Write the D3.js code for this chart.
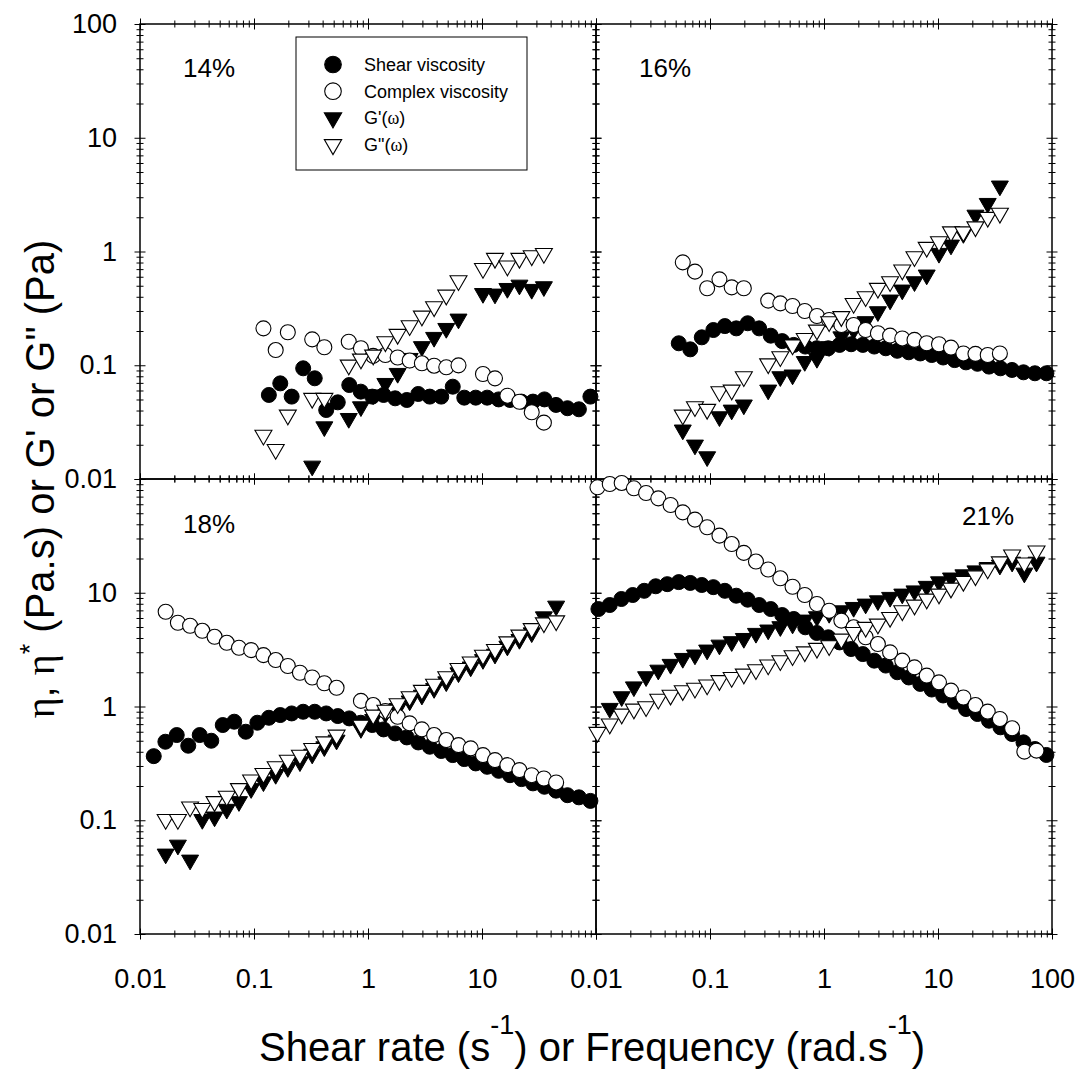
<!DOCTYPE html>
<html>
<head>
<meta charset="utf-8">
<script src="https://cdn.jsdelivr.net/npm/d3@7"></script>
<style>
  body { margin: 0; background: #fff; }
  text { font-family: "Liberation Sans", Arial, sans-serif; }
</style>
</head>
<body>
<svg id="chart" width="1087" height="1073"></svg>
<script>
// oscillatory frequency grid (rad/s) shared by all frequency sweeps
var freq = [0.0103, 0.0132, 0.0168, 0.0215, 0.0275, 0.0352, 0.0451, 0.0577, 0.0738, 0.0944,
            0.121, 0.155, 0.198, 0.253, 0.324, 0.414, 0.530, 0.678, 0.867, 1.11,
            1.42, 1.82, 2.32, 2.97, 3.80, 4.86, 6.22, 7.96, 10.2, 13.0,
            16.7, 21.3, 27.3, 34.9, 44.7, 57.2, 73.1];
// steady shear rate grid (1/s)
var rate = [0.0105, 0.0132, 0.0167, 0.0210, 0.0265, 0.0334, 0.0422, 0.0532, 0.0671, 0.0847,
            0.107, 0.135, 0.170, 0.214, 0.270, 0.341, 0.430, 0.543, 0.685, 0.864,
            1.09, 1.37, 1.73, 2.19, 2.76, 3.48, 4.39, 5.54, 6.99, 8.81,
            11.1, 14.0, 17.6, 22.2, 28.0, 35.3, 44.6, 56.2, 70.8, 89.3];

var panelLabels = ["14%", "16%", "18%", "21%"];

// 14 %
var eta14 = [null, null, null, null, null, null, null, null, null, null, null,
             0.0548, 0.0693, 0.0530, 0.0940, 0.0768, 0.0404, 0.0472, 0.0670, 0.0586, 0.0530,
             0.0548, 0.0512, 0.0495, 0.0559, 0.0530, 0.0530, 0.0648, 0.0519, 0.0519, 0.0519,
             0.0501, 0.0495, 0.0479, 0.0479, 0.0501, 0.0448, 0.0419, 0.0410, 0.0530];
var etaStar14 = [null, null, null, null, null, null, null, null, null, null,
                 0.211, 0.136, 0.195, null, 0.169, 0.144, null, 0.161, 0.141, 0.121,
                 0.123, 0.117, 0.110, 0.104, 0.0991, 0.0959, 0.0998, null, 0.0838, 0.0767,
                 0.0540, 0.0478, 0.0386, 0.0313, null, null, null];
var gp14 = [null, null, null, null, null, null, null, null, null, null,
            null, null, null, null, 0.0130, 0.0288, null, 0.0341, 0.0432, 0.055,
            0.0693, 0.0849, 0.115, 0.146, 0.176, 0.211, 0.255, null, 0.428, 0.423,
            0.474, 0.507, 0.465, 0.491, null, null, null];
var gpp14 = [null, null, null, null, null, null, null, null, null, null,
             0.0243, 0.0182, 0.0365, null, 0.0512, 0.0512, null, 0.1005, 0.1135, 0.123,
             0.161, 0.187, 0.223, 0.271, 0.327, 0.414, 0.554, null, 0.711, 0.871,
             0.746, 0.871, 0.918, 0.963, null, null, null];

// 16 %
var eta16 = [null, null, null, null, null, null, null,
             0.156, 0.138, 0.176, 0.204, 0.221, 0.211, 0.234, 0.211, 0.182, 0.163,
             0.151, 0.146, 0.141, 0.141, 0.151, 0.153, 0.151, 0.146, 0.141, 0.134,
             0.130, 0.127, 0.123, 0.117, 0.111, 0.106, 0.103, 0.0973, 0.0940, 0.0909,
             0.0867, 0.0850, 0.0850];
var etaStar16 = [null, null, null, null, null, null, null, 0.803, 0.665, 0.475,
                 0.569, 0.484, 0.475, null, 0.370, 0.350, 0.332, 0.300, 0.271, 0.250,
                 0.226, 0.226, 0.204, 0.191, 0.182, 0.172, 0.167, 0.156, 0.153, 0.143,
                 0.127, 0.126, 0.123, 0.127, null, null, null];
var gp16 = [null, null, null, null, null, null, null, 0.0270, 0.0199, 0.0157,
            0.0353, 0.0404, 0.0448, null, 0.0606, 0.0794, 0.0822, 0.108, 0.115, 0.146,
            0.178, 0.204, 0.242, 0.296, 0.375, 0.459, 0.543, 0.622, 0.964, 1.14,
            1.44, 2.09, 2.65, 3.77, null, null, null];
var gpp16 = [null, null, null, null, null, null, null, 0.0365, 0.0433, 0.0410,
             0.0586, 0.0606, 0.0794, null, 0.103, 0.119, 0.151, 0.172, 0.204, 0.242,
             0.268, 0.350, 0.401, 0.475, 0.543, 0.688, 0.901, 1.09, 1.22, 1.49,
             1.49, 1.65, 2.00, 2.17, null, null, null];

// 18 %
var eta18 = [null,
             0.366, 0.490, 0.561, 0.452, 0.561, 0.500, 0.687, 0.735, 0.600, 0.720,
             0.796, 0.841, 0.869, 0.899, 0.899, 0.869, 0.824, 0.786, 0.720, 0.687,
             0.629, 0.580, 0.535, 0.483, 0.443, 0.406, 0.374, 0.345, 0.316, 0.295,
             0.272, 0.249, 0.230, 0.211, 0.197, 0.182, 0.166, 0.159, 0.148];
var etaStar18 = [null, null, 6.81, 5.45, 5.13, 4.63, 4.10, 3.63, 3.28, 3.13,
                 2.83, 2.56, 2.27, 1.98, 1.80, 1.60, 1.46, null, 1.12, 1.03,
                 0.912, 0.813, 0.710, 0.629, 0.561, 0.507, 0.458, 0.428, 0.374, 0.338,
                 0.305, 0.276, 0.249, 0.233, 0.215, null, null];
var gp18 = [null, null, 0.0505, 0.0605, 0.0447, 0.1017, 0.107, 0.125, 0.146, 0.190,
            0.218, 0.253, 0.291, 0.327, 0.382, 0.443, 0.507, null, 0.641, 0.770,
            0.869, 0.962, 1.12, 1.26, 1.44, 1.65, 1.98, 2.23, 2.59, 2.89,
            3.40, 3.89, 4.45, 6.15, 7.64, null, null];
var gpp18 = [null, null, 0.1017, 0.1017, 0.131, 0.127, 0.146, 0.163, 0.190, 0.226,
             0.258, 0.296, 0.338, 0.374, 0.428, 0.490, 0.561, null, 0.687, 0.841,
             0.930, 1.06, 1.22, 1.39, 1.57, 1.83, 2.16, 2.47, 2.83, 3.18,
             3.71, 4.25, 4.85, 5.45, 5.67, null, null];

// 21 %
var eta21 = [7.19, 7.80, 8.81, 9.55, 10.4, 11.4, 11.9, 12.4, 12.2, 11.7,
             11.2, 10.4, 9.42, 8.69, 7.80, 7.19, 6.37, 5.88, 4.97, 4.43,
             4.06, 3.66, 3.20, 2.89, 2.53, 2.29, 2.00, 1.80, 1.58, 1.41,
             1.25, 1.10, 0.950, 0.859, 0.750, 0.656, 0.573, 0.484, 0.423, 0.375];
var etaStar21 = [84.5, 90.4, 92.3, 82.8, 75.3, 67.6, 59.1, 50.9, 43.9, 37.6,
                 31.8, 26.8, 22.4, 18.8, 16.0, 13.4, 11.3, 9.55, 7.96, 6.95,
                 5.69, 4.97, 4.06, 3.54, 2.99, 2.53, 2.21, 1.87, 1.63, 1.38,
                 1.20, 1.03, 0.901, 0.776, 0.643, 0.401, 0.409];
var gp21 = [null, 0.964, 1.22, 1.49, 1.83, 2.09, 2.35, 2.65, 2.84, 3.14,
            3.47, 3.72, 3.97, 4.40, 4.71, 5.04, 5.31, 5.76, 6.16, 6.59,
            6.95, 7.44, 7.96, 8.51, 9.12, 9.75, 10.4, 11.4, 12.5, 13.5,
            14.4, 15.6, 16.7, 17.5, 18.6, 14.9, 18.6];
var gpp21 = [0.593, 0.702, 0.859, 0.950, 0.997, 1.16, 1.26, 1.38, 1.45, 1.55,
             1.69, 1.80, 1.93, 2.11, 2.32, 2.53, 2.80, 3.03, 3.25, 3.43,
             3.92, 4.48, 4.97, 5.31, 6.08, 6.95, 7.80, 8.81, 9.75, 11.0,
             12.6, 14.1, 16.2, 18.7, 21.5, 18.3, 23.3];

var legendNames = ["Shear viscosity", "Complex viscosity", "G'(\u03c9)", "G\"(\u03c9)"];

// ---------------------------------------------------------------
var svg = d3.select("#chart");
var plot = {left: 140, right: 1052, top: 24, bottom: 934};
var pw = (plot.right - plot.left) / 2, ph = (plot.bottom - plot.top) / 2;

var panels = [
    {label: panelLabels[0], col: 0, row: 0, eta: eta14, etaStar: etaStar14, gp: gp14, gpp: gpp14, lx: 43, ly: 53},
    {label: panelLabels[1], col: 1, row: 0, eta: eta16, etaStar: etaStar16, gp: gp16, gpp: gpp16, lx: 43, ly: 53},
    {label: panelLabels[2], col: 0, row: 1, eta: eta18, etaStar: etaStar18, gp: gp18, gpp: gpp18, lx: 43, ly: 54},
    {label: panelLabels[3], col: 1, row: 1, eta: eta21, etaStar: etaStar21, gp: gp21, gpp: gpp21, lx: 366, ly: 46}
];

var majors = [0.01, 0.1, 1, 10, 100];
var tickVals = [];
majors.slice(0, 4).forEach(function (m) {
    for (var k = 1; k < 10; k++) tickVals.push(m * k);
});
tickVals.push(100);

function isMajor(d) {
    var l = Math.log10(d);
    return Math.abs(l - Math.round(l)) < 1e-6;
}
var fmt = d3.format("~g");

var triangle = d3.symbol().type(d3.symbolTriangle).size(125)();
var triangleLegend = d3.symbol().type(d3.symbolTriangle).size(130)();

function drawAxis(g, scale, orient, tx, ty, labelFn) {
    var fn = {bottom: d3.axisBottom, top: d3.axisTop, left: d3.axisLeft, right: d3.axisRight}[orient];
    var ax = fn(scale).tickValues(tickVals).tickSizeOuter(0).tickSizeInner(5)
        .tickPadding(orient === "left" ? 18 : 30)
        .tickFormat(function (d) { return labelFn && labelFn(d) ? fmt(d) : ""; });
    var a = g.append("g")
        .attr("transform", "translate(" + tx + "," + ty + ")")
        .call(ax);
    a.attr("font-size", 27).attr("font-family", "Liberation Sans, Arial, sans-serif");
    a.select(".domain").remove();
    var horiz = orient === "bottom" || orient === "top";
    a.selectAll(".tick line")
        .attr("stroke", "#000")
        .attr("stroke-width", 1)
        .each(function (d) {
            var len = isMajor(d) ? 5.5 : 3.5;
            if (horiz) d3.select(this).attr("y1", -len).attr("y2", len);
            else d3.select(this).attr("x1", -len).attr("x2", len);
        });
    a.selectAll(".tick text").attr("fill", "#000");
}

panels.forEach(function (p) {
    var x0 = plot.left + p.col * pw, y0 = plot.top + p.row * ph;
    var x = d3.scaleLog().domain([0.01, 100]).range([x0, x0 + pw]);
    var y = d3.scaleLog().domain([0.01, 100]).range([y0 + ph, y0]);
    var g = svg.append("g");

    // axes with ticks crossing the frame on all four sides
    drawAxis(g, x, "top", 0, y0, null);
    drawAxis(g, x, "bottom", 0, y0 + ph, p.row === 1 ? function (d) {
        return isMajor(d) && !(p.col === 0 && d === 100);
    } : null);
    drawAxis(g, y, "left", x0, 0, p.col === 0 ? function (d) {
        return isMajor(d) && !(p.row === 1 && d === 100);
    } : null);
    drawAxis(g, y, "right", x0 + pw, 0, null);

    g.append("rect")
        .attr("x", x0).attr("y", y0).attr("width", pw).attr("height", ph)
        .attr("fill", "none").attr("stroke", "#000").attr("stroke-width", 1.5);

    var pts = function (xs, ys) {
        return ys.map(function (v, i) { return {x: xs[i], y: v}; })
            .filter(function (d) { return d.y != null; });
    };

    // shear viscosity
    g.append("g").selectAll("circle").data(pts(rate, p.eta)).enter().append("circle")
        .attr("cx", function (d) { return x(d.x); })
        .attr("cy", function (d) { return y(d.y); })
        .attr("r", 7.5).attr("fill", "#000").attr("stroke", "#000").attr("stroke-width", 1);

    // G'
    g.append("g").selectAll("path").data(pts(freq, p.gp)).enter().append("path")
        .attr("d", triangle)
        .attr("transform", function (d) { return "translate(" + x(d.x) + "," + y(d.y) + ") rotate(180)"; })
        .attr("fill", "#000").attr("stroke", "#000").attr("stroke-width", 1);

    // complex viscosity
    g.append("g").selectAll("circle").data(pts(freq, p.etaStar)).enter().append("circle")
        .attr("cx", function (d) { return x(d.x); })
        .attr("cy", function (d) { return y(d.y); })
        .attr("r", 7.5).attr("fill", "#fff").attr("stroke", "#000").attr("stroke-width", 1.1);

    // G''
    g.append("g").selectAll("path").data(pts(freq, p.gpp)).enter().append("path")
        .attr("d", triangle)
        .attr("transform", function (d) { return "translate(" + x(d.x) + "," + y(d.y) + ") rotate(180)"; })
        .attr("fill", "#fff").attr("stroke", "#000").attr("stroke-width", 1.1);

    g.append("text")
        .attr("x", x0 + p.lx).attr("y", y0 + p.ly)
        .attr("font-size", 26)
        .text(p.label);
});

// legend
var leg = svg.append("g").attr("transform", "translate(296,37)");
leg.append("rect").attr("width", 231).attr("height", 133)
    .attr("fill", "#fff").attr("stroke", "#000").attr("stroke-width", 1);
var legItems = leg.selectAll("g.item").data(legendNames).enter().append("g")
    .attr("class", "item")
    .attr("transform", function (d, i) { return "translate(37," + (27.5 + i * 26.7) + ")"; });
legItems.each(function (d, i) {
    var it = d3.select(this);
    if (i < 2) {
        it.append("circle").attr("r", 8.3)
            .attr("fill", i === 0 ? "#000" : "#fff").attr("stroke", "#000").attr("stroke-width", 1.1);
    } else {
        it.append("path").attr("d", triangleLegend).attr("transform", "rotate(180)")
            .attr("fill", i === 2 ? "#000" : "#fff").attr("stroke", "#000").attr("stroke-width", 1.1);
    }
    var t = it.append("text").attr("x", 31).attr("y", 6.5).attr("font-size", 18);
    if (i < 2) t.text(d);
    else {
        var parts = d.split("\u03c9");
        t.append("tspan").text(parts[0]);
        t.append("tspan").attr("font-family", "Liberation Serif, serif").text("\u03c9");
        t.append("tspan").text(parts[1]);
    }
});

// x axis title
var xt = svg.append("text")
    .attr("x", 592).attr("y", 1061)
    .attr("text-anchor", "middle").attr("font-size", 40);
xt.append("tspan").text("Shear rate (s");
xt.append("tspan").attr("font-size", 27).attr("dy", -27).text("-1");
xt.append("tspan").attr("dy", 27).text(") or Frequency (rad.s");
xt.append("tspan").attr("font-size", 27).attr("dy", -27).text("-1");
xt.append("tspan").attr("dy", 27).text(")");

// y axis title
var yt = svg.append("text")
    .attr("transform", "translate(54,479) rotate(-90)")
    .attr("text-anchor", "middle").attr("font-size", 40);
yt.append("tspan").attr("font-family", "Liberation Serif, serif").text("\u03b7");
yt.append("tspan").text(", ");
yt.append("tspan").attr("font-family", "Liberation Serif, serif").text("\u03b7");
yt.append("tspan").attr("font-size", 27).attr("dy", -15).text("*");
yt.append("tspan").attr("dy", 15).text(" (Pa.s) or G' or G\" (Pa)");
</script>
</body>
</html>
